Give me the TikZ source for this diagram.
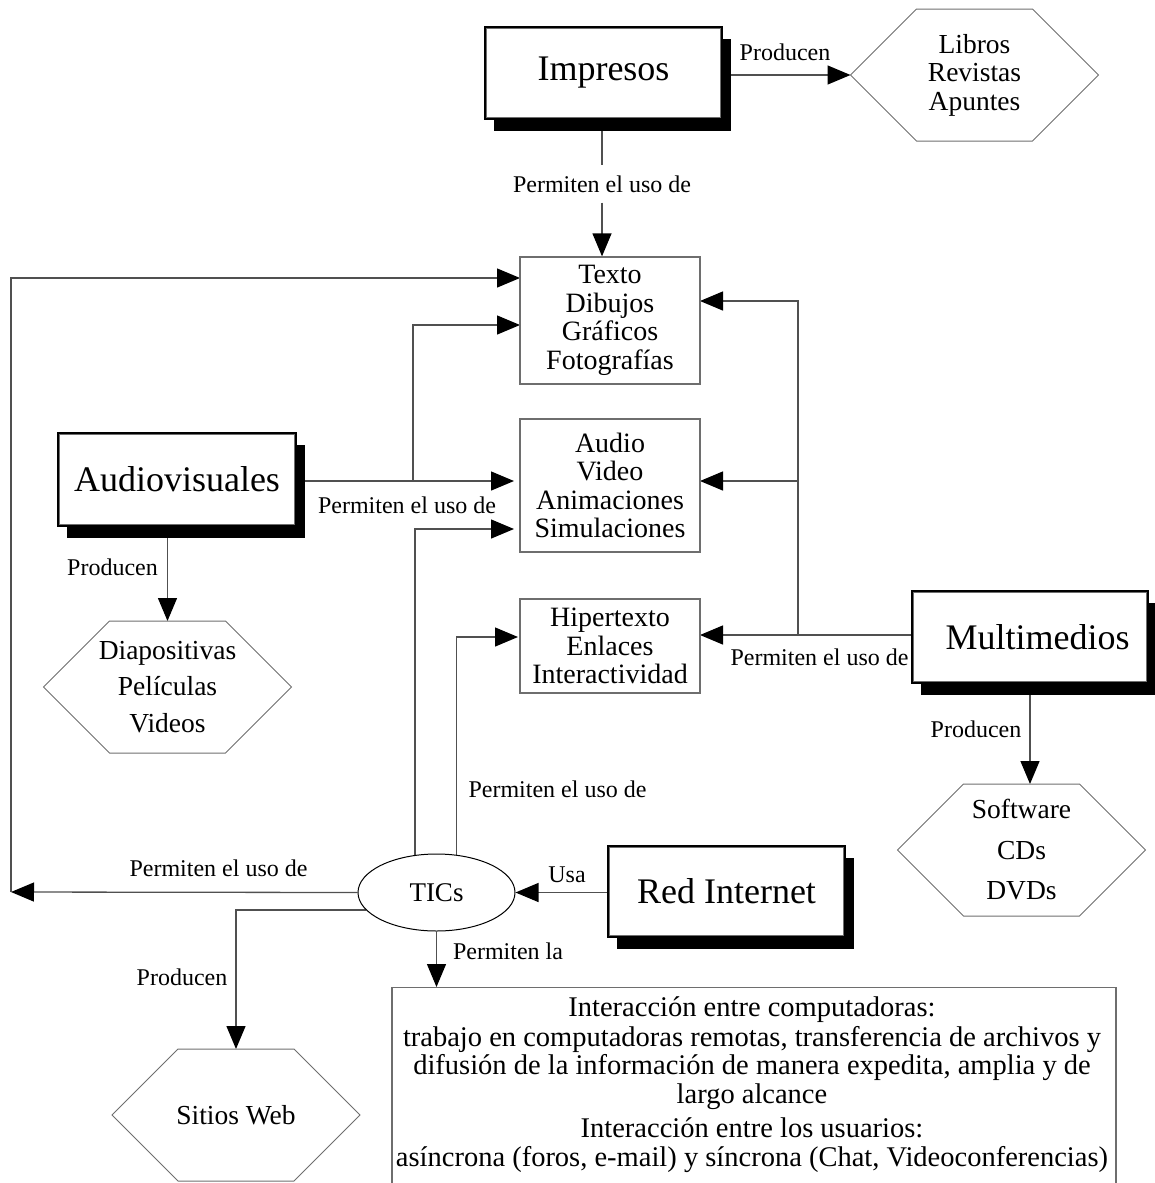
\documentclass[tikz,border=0pt]{standalone}
\usepackage{fontspec}
\setmainfont{Liberation Serif}
\usetikzlibrary{arrows.meta,shadows,shapes.geometric,backgrounds}

\definecolor{linegray}{RGB}{80,80,80}
\definecolor{boxgray}{RGB}{110,110,110}

\newcommand\lblfont{\fontsize{24}{24}\selectfont}
\newcommand\titlefont{\fontsize{36}{36}\selectfont}
\newcommand\hexshape[1]{%
  \draw[hexline] (#1.west) -- ([xshift=66pt]#1.north west) -- ([xshift=-66pt]#1.north east)
    -- (#1.east) -- ([xshift=-66pt]#1.south east) -- ([xshift=66pt]#1.south west) -- cycle;}

\begin{document}
\begin{tikzpicture}[x=1pt,y=-1pt,
  conn/.style={draw=linegray,line width=1.3pt},
  arr/.style={-{Triangle[length=23pt,width=19pt,color=black]}},
  lbl/.style={font=\lblfont,inner sep=0pt},
  bigbox/.style={rectangle,draw=black,line width=2pt,fill=white,font=\titlefont,
    drop shadow={shadow xshift=9pt,shadow yshift=-12pt,fill=black,opacity=1},
    path picture={\draw[boxgray,line width=0.9pt]
      ([shift={(1.7pt,-1.7pt)}]path picture bounding box.north west) rectangle
      ([shift={(-1.7pt,1.7pt)}]path picture bounding box.south east);}},
  itembox/.style={rectangle,draw=boxgray,line width=1.3pt,fill=white,align=center,
    inner sep=0pt,minimum width=180pt},
  hexnode/.style={rectangle,minimum width=248pt,minimum height=132pt,inner sep=0pt,
    outer sep=0pt,align=center},
  hexline/.style={draw=boxgray,line width=1pt},
]
\useasboundingbox (0,0) rectangle (1155,1183);
\clip (0,0) rectangle (1155,1183);

% main categories
\node[bigbox,minimum width=237pt,minimum height=92pt] (imp) at (603.5,73) {Impresos};
\node[bigbox,minimum width=238pt,minimum height=93pt] (av) at (177,479.5) {Audiovisuales};
\node[bigbox,minimum width=236pt,minimum height=92pt] (multi) at (1030,637)
  {\hspace*{15pt}Multimedios};
\node[bigbox,minimum width=237pt,minimum height=91pt] (red) at (726.5,891.5) {Red Internet};

% content boxes
\node[itembox,minimum height=127pt,font=\fontsize{28}{28.5}\selectfont] (texto) at (610,320.5)
  {Texto\\Dibujos\\Gráficos\\Fotografías};
\node[itembox,minimum height=133pt,font=\fontsize{28}{28.5}\selectfont] (audio) at (610,485.5)
  {Audio\\Video\\Animaciones\\Simulaciones};
\node[itembox,minimum height=94pt,font=\fontsize{28}{28.5}\selectfont] (hiper) at (610,646)
  {Hipertexto\\Enlaces\\Interactividad};

% products
\node[hexnode,font=\fontsize{27.5}{28.5}\selectfont] (libros) at (974.5,75) {Libros\\Revistas\\Apuntes};
\node[hexnode,font=\fontsize{27.5}{36.5}\selectfont] (diap) at (167.5,687) {Diapositivas\\Películas\\Videos};
\node[hexnode,font=\fontsize{27.5}{40.5}\selectfont] (soft) at (1021.5,850) {Software\\CDs\\DVDs};
\node[hexnode,font=\fontsize{27.5}{28.5}\selectfont] (sitios) at (236,1115) {Sitios Web};
\hexshape{libros}
\hexshape{diap}
\hexshape{soft}
\hexshape{sitios}

% TICs and what they allow
\node[ellipse,draw=black,line width=1pt,fill=white,minimum width=157pt,minimum height=77pt,
  inner sep=0pt,font=\fontsize{27}{27}\selectfont] (tics) at (436.5,892.5) {TICs};
\node[rectangle,draw=boxgray,line width=1.3pt,fill=white,minimum width=724pt,
  minimum height=210pt,anchor=north] (inter) at (754,987) {};
\node[align=center,anchor=north,inner sep=0pt,font=\fontsize{28.5}{28.5}\selectfont] (intertxt)
  at (752,996) {Interacción entre computadoras:\\[1.5pt]
  trabajo en computadoras remotas, transferencia de archivos y\\
  difusión de la información de manera expedita, amplia y de\\
  largo alcance\\[6pt]
  Interacción entre los usuarios:\\
  asíncrona (foros, e-mail) y síncrona (Chat, Videoconferencias)};

% label that interrupts the Impresos connector
\node[lbl,fill=white,inner ysep=10pt,inner xsep=2pt] (impl) at (602,184) {Permiten el uso de};

% entry points on the content boxes
\coordinate (tin1) at (520,278);
\coordinate (tin2) at (520,325);
\coordinate (tin3) at (700,301);
\coordinate (ain1) at (514,481);
\coordinate (ain2) at (514,529);
\coordinate (ain3) at (700,481);
\coordinate (hin1) at (518,637);
\coordinate (hin2) at (700,635);
\coordinate (cL) at (11,892);
\coordinate (avj) at (413,481);
\coordinate (mj) at (798,635);

\begin{scope}[on background layer]
  % Impresos
  \draw[conn] (impl.north |- imp.south) -- (impl.north);
  \draw[conn,arr] (impl.south) -- (impl.south |- texto.north);
  \draw[conn,arr] (imp.east |- libros.west) -- (libros.west);
  % Audiovisuales
  \draw[conn,arr] (av.east |- ain1) -- (ain1);
  \draw[conn,arr] (avj) |- (tin2);
  \draw[conn,arr] (diap.north |- av.south) -- (diap.north);
  % Multimedios
  \draw[conn,arr] (multi.west |- hin2) -- (hin2);
  \draw[conn,arr] (mj) |- (tin3);
  \draw[conn,arr] (mj |- ain3) -- (ain3);
  \draw[conn,arr] (multi.south) -- (multi.south |- soft.north);
  % TICs
  \draw[conn,arr] (tics.west) -- (cL);
  \draw[conn,arr] (cL) |- (tin1);
  \draw[conn,arr] (tics.120) |- (ain2);
  \draw[conn,arr] (tics.62) |- (hin1);
  \draw[conn,arr] (tics.194) -| (sitios.north);
  \draw[conn,arr] (tics.south) -- (tics.south |- inter.north);
  \draw[conn,arr] (red.west |- tics.east) -- (tics.east);
\end{scope}

% connector labels
\node[lbl,anchor=base] (l1) at (785,60) {Producen};
\node[lbl,anchor=base] (l2) at (407,513) {Permiten el uso de};
\node[lbl,anchor=base] (l3) at (112.5,575) {Producen};
\node[lbl,anchor=base] (l4) at (819.5,665) {Permiten el uso de};
\node[lbl,anchor=base] (l5) at (976,737) {Producen};
\node[lbl,anchor=base] (l6) at (557.5,797) {Permiten el uso de};
\node[lbl,anchor=base] (l7) at (218.5,876) {Permiten el uso de};
\node[lbl,anchor=base] (l8) at (567,882) {Usa};
\node[lbl,anchor=base] (l9) at (508,959) {Permiten la};
\node[lbl,anchor=base] (l10) at (182,985) {Producen};
\end{tikzpicture}
\end{document}
